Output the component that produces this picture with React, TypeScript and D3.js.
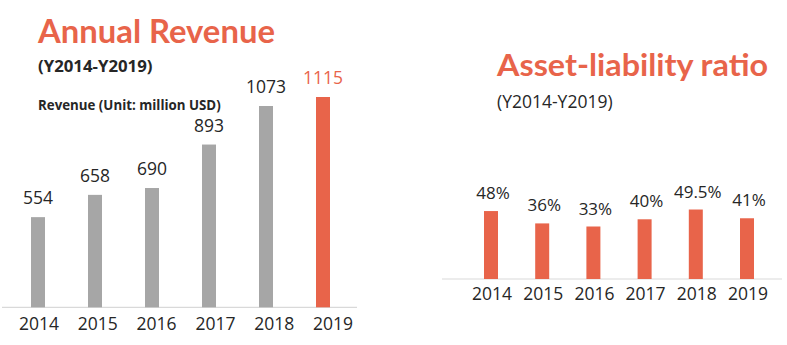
import React from "react";
import * as d3 from "d3";

const years = ["2014", "2015", "2016", "2017", "2018", "2019"];
const revenue = [554, 658, 690, 893, 1073, 1115];
const ratio = [48, 36, 33, 40, 49.5, 41];

const ORANGE = "#E8644A";
const GRAY = "#A6A6A6";
const TEXT = "#262626";
const AXIS = "#D9D9D9";
const NUM_FONT = "'Open Sans', 'Noto Sans', sans-serif";
const TITLE_FONT = "Lato, 'Open Sans', sans-serif";

export default function App() {
  const W = 787;
  const H = 345;

  // Left chart scales
  const leftBase = 307.3;
  const xRev = d3.scalePoint<string>().domain(years).range([38, 323]);
  const xRevLabel = d3.scalePoint<string>().domain(years).range([39, 333]);
  const yRev = d3.scaleLinear().domain([133, 1115]).range([leftBase, 97]);

  // Right chart scales
  const rightBase = 279;
  const xRat = d3.scalePoint<string>().domain(years).range([491, 747]);
  const yRat = d3.scaleLinear().domain([-18, 50]).range([rightBase, 209]);

  const barW = 14;
  const fmtPct = (v: number) => `${v}%`;

  return (
    <svg
      width={W}
      height={H}
      style={{ position: "absolute", left: 0, top: 0, background: "#fff" }}
    >
      <defs>
        <linearGradient id="fadeLine" x1="0" x2="1" y1="0" y2="0">
          <stop offset="0" stopColor="#E8806A" stopOpacity={0} />
          <stop offset="0.4" stopColor="#E8806A" stopOpacity={0.6} />
          <stop offset="1" stopColor="#E8806A" stopOpacity={1} />
        </linearGradient>
      </defs>

      {/* Left titles */}
      <text x={38} y={42.5} fill={ORANGE} fontFamily={TITLE_FONT} fontWeight={700} fontSize={32.8}>
        Annual Revenue
      </text>
      <text x={38} y={71.5} fill={TEXT} fontFamily={NUM_FONT} fontWeight={700} fontSize={16.8}>
        (Y2014-Y2019)
      </text>
      <text x={38} y={110} fill={TEXT} fontFamily={NUM_FONT} fontWeight={700} fontSize={13.3}>
        Revenue (Unit: million USD)
      </text>

      {/* Left axis */}
      <line x1={2} x2={357} y1={leftBase} y2={leftBase} stroke={AXIS} strokeWidth={1.2} />
      {years.map((yr, i) => (
        <g key={"rev" + yr}>
          <rect
            x={(xRev(yr) as number) - barW / 2}
            y={yRev(revenue[i])}
            width={barW}
            height={leftBase - yRev(revenue[i])}
            fill={i === years.length - 1 ? ORANGE : GRAY}
          />
          <text
            x={xRev(yr) as number}
            y={yRev(revenue[i]) - 13}
            textAnchor="middle"
            fill={i === years.length - 1 ? ORANGE : TEXT}
            fontFamily={NUM_FONT}
            fontSize={17.5}
          >
            {revenue[i]}
          </text>
          <text
            x={xRevLabel(yr) as number}
            y={330}
            textAnchor="middle"
            fill={TEXT}
            fontFamily={NUM_FONT}
            fontSize={17.5}
          >
            {yr}
          </text>
        </g>
      ))}

      {/* Right titles */}
      <text
        x={497}
        y={76}
        fill={ORANGE}
        fontFamily={TITLE_FONT}
        fontWeight={700}
        fontSize={31}
        textLength={271}
        lengthAdjust="spacingAndGlyphs"
      >
        Asset-liability ratio
      </text>
      <text x={497} y={108} fill={TEXT} fontFamily={NUM_FONT} fontSize={17.5}>
        (Y2014-Y2019)
      </text>
      <line x1={457} x2={709} y1={159.5} y2={159.5} stroke="url(#fadeLine)" strokeWidth={1.5} />

      {/* Right axis */}
      <line x1={442} x2={782} y1={rightBase} y2={rightBase} stroke={AXIS} strokeWidth={1.2} />
      {years.map((yr, i) => (
        <g key={"rat" + yr}>
          <rect
            x={(xRat(yr) as number) - barW / 2}
            y={yRat(ratio[i])}
            width={barW}
            height={rightBase - yRat(ratio[i])}
            fill={ORANGE}
          />
          <text
            x={(xRat(yr) as number) + 2}
            y={yRat(ratio[i]) - 12}
            textAnchor="middle"
            fill={TEXT}
            fontFamily={NUM_FONT}
            fontSize={17}
          >
            {fmtPct(ratio[i])}
          </text>
          <text
            x={(xRat(yr) as number) + 1}
            y={300}
            textAnchor="middle"
            fill={TEXT}
            fontFamily={NUM_FONT}
            fontSize={17.5}
          >
            {yr}
          </text>
        </g>
      ))}
    </svg>
  );
}
